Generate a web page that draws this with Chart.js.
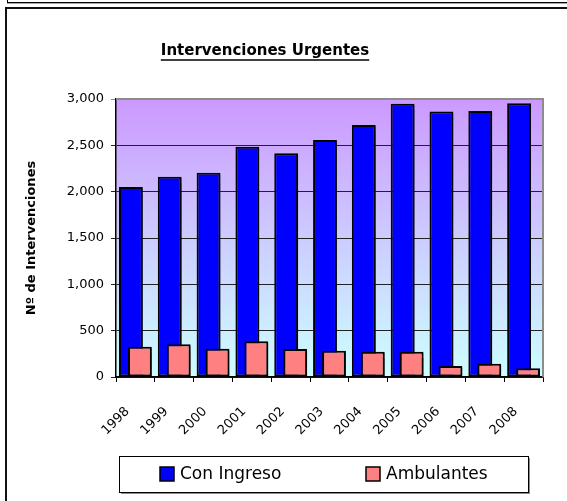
<!DOCTYPE html>
<html>
<head>
<meta charset="utf-8">
<title>Intervenciones Urgentes</title>
<script src="https://cdn.jsdelivr.net/npm/chart.js@4/dist/chart.umd.min.js"></script>
<style>
	html, body { margin: 0; padding: 0; background: #fff; }
	body { width: 567px; height: 501px; position: relative; overflow: hidden; }
	.frame-top { position: absolute; left: 7px; top: -20px; width: 600px; height: 21px; border: 1px solid #000; box-shadow: 0 1px 0 #aaa; }
	.frame-main { position: absolute; left: 5px; top: 7px; width: 600px; height: 600px; border-left: 2px solid #111; border-top: 2px solid #111; }
	#chart { position: absolute; left: 0; top: 0; }
</style>
</head>
<body>
<div class="frame-top"></div>
<div class="frame-main"></div>
<canvas id="chart" width="567" height="501"></canvas>
<script>
(function() {
	'use strict';

	// Data
	const years = ['1998', '1999', '2000', '2001', '2002', '2003', '2004', '2005', '2006', '2007', '2008'];
	const conIngreso = [2050, 2160, 2205, 2485, 2415, 2557, 2720, 2950, 2865, 2870, 2955];
	const ambulantes = [327, 353, 305, 385, 302, 284, 273, 273, 119, 144, 94];
	const yTicks = [0, 500, 1000, 1500, 2000, 2500, 3000];

	const FONT = 'DejaVu Sans';

	/**
	 * Gradient plot background, grey frame and bar shadows.
	 * The second dataset is held back and drawn last so it overlaps the first.
	 */
	const plotArea = {
		id: 'plotArea',
		beforeDraw: function(chart) {
			const a = chart.chartArea;
			const ctx = chart.ctx;
			const g = ctx.createLinearGradient(0, a.top, 0, a.bottom);
			g.addColorStop(0, '#cc99ff');
			g.addColorStop(1, '#ccffff');
			ctx.save();
			ctx.fillStyle = g;
			ctx.fillRect(a.left, a.top, a.right - a.left, a.bottom - a.top);
			ctx.restore();
		},
		beforeDatasetsDraw: function(chart) {
			const a = chart.chartArea;
			const ctx = chart.ctx;
			ctx.save();
			ctx.strokeStyle = '#8c8c8c';
			ctx.lineWidth = 2;
			ctx.beginPath();
			ctx.moveTo(a.left, a.top);
			ctx.lineTo(a.right, a.top);
			ctx.lineTo(a.right, a.bottom);
			ctx.stroke();
			ctx.restore();

			ctx.save();
			ctx.shadowColor = 'rgba(0, 0, 0, 0.4)';
			ctx.shadowOffsetX = 2;
			ctx.shadowOffsetY = 2;
			ctx.shadowBlur = 1;
		},
		beforeDatasetDraw: function(chart, args) {
			if (args.index === 1 && !chart.$drawLast) return false;
		},
		afterDatasetsDraw: function(chart) {
			chart.$drawLast = true;
			chart.getDatasetMeta(1).controller.draw();
			chart.$drawLast = false;
			chart.ctx.restore();
		}
	};

	/**
	 * Underlined title, placed like the original
	 */
	const underlinedTitle = {
		id: 'underlinedTitle',
		afterDraw: function(chart) {
			const ctx = chart.ctx;
			const text = 'Intervenciones Urgentes';
			const x = 265, y = 51;
			ctx.save();
			ctx.font = 'bold 15px "' + FONT + '"';
			ctx.fillStyle = '#000';
			ctx.textAlign = 'center';
			ctx.textBaseline = 'middle';
			ctx.fillText(text, x, y);
			const w = ctx.measureText(text).width;
			ctx.strokeStyle = '#000';
			ctx.lineWidth = 1.5;
			ctx.beginPath();
			ctx.moveTo(x - w / 2, y + 9);
			ctx.lineTo(x + w / 2, y + 9);
			ctx.stroke();
			ctx.restore();
		}
	};

	/**
	 * Boxed legend under the chart
	 */
	const boxedLegend = {
		id: 'boxedLegend',
		afterDraw: function(chart) {
			const ctx = chart.ctx;
			const box = { x: 119, y: 456, w: 409, h: 36 };
			const itemX = [160, 366];

			ctx.save();
			ctx.fillStyle = '#8c8c8c';
			ctx.fillRect(box.x + 2, box.y + 2, box.w, box.h);
			ctx.fillStyle = '#fff';
			ctx.fillRect(box.x, box.y, box.w, box.h);
			ctx.strokeStyle = '#000';
			ctx.lineWidth = 1;
			ctx.strokeRect(box.x + 0.5, box.y + 0.5, box.w, box.h);

			ctx.font = '17px "' + FONT + '"';
			ctx.textBaseline = 'middle';
			chart.data.datasets.forEach(function(ds, i) {
				const x = itemX[i];
				const cy = box.y + box.h / 2;
				ctx.fillStyle = ds.backgroundColor;
				ctx.fillRect(x, cy - 7, 14, 14);
				ctx.lineWidth = 1.5;
				ctx.strokeStyle = '#000';
				ctx.strokeRect(x, cy - 7, 14, 14);
				ctx.fillStyle = '#000';
				ctx.fillText(ds.label, x + 20, cy + 1);
			});
			ctx.restore();
		}
	};

	const ctx = document.getElementById('chart');

	new Chart(ctx, {
		type: 'bar',
		data: {
			labels: years,
			datasets: [{
				label: 'Con Ingreso',
				data: conIngreso,
				backgroundColor: '#0000ff',
				borderColor: '#000',
				borderWidth: 2,
				borderSkipped: false,
				categoryPercentage: 0.464,
				barPercentage: 2.65
			}, {
				label: 'Ambulantes',
				data: ambulantes,
				backgroundColor: '#ff8080',
				borderColor: '#000',
				borderWidth: 2,
				borderSkipped: false,
				categoryPercentage: 0.464,
				barPercentage: 2.65
			}]
		},
		options: {
			responsive: false,
			animation: false,
			layout: {
				padding: { left: 0, right: 24, top: 99, bottom: 0 }
			},
			plugins: {
				legend: { display: false },
				title: { display: false },
				tooltip: { enabled: false }
			},
			scales: {
				x: {
					grid: {
						offset: true,
						drawOnChartArea: false,
						drawTicks: true,
						tickLength: 5,
						color: '#000'
					},
					border: { color: '#000', width: 1.5 },
					ticks: {
						color: '#000',
						font: { family: FONT, size: 13 },
						maxRotation: 45,
						minRotation: 45,
						padding: 22,
						labelOffset: -8
					},
					afterFit: function(scale) {
						scale.height = 124;
					}
				},
				y: {
					min: 0,
					max: 3000,
					afterBuildTicks: function(scale) {
						scale.ticks = yTicks.map(function(v) { return { value: v }; });
					},
					grid: {
						color: function(c) {
							return c.tick && c.tick.value === 3000 ? '#8c8c8c' : '#222';
						},
						lineWidth: 1,
						tickLength: 5
					},
					border: { color: '#000', width: 1.5 },
					ticks: {
						color: '#000',
						font: { family: FONT, size: 13 },
						padding: 7,
						callback: function(v) {
							return Number(v).toLocaleString('en-US');
						}
					},
					title: {
						display: true,
						text: 'Nº de Intervenciones',
						color: '#000',
						font: { family: FONT, size: 13, weight: 'bold' },
						padding: { top: 24, bottom: 0 }
					},
					afterFit: function(scale) {
						scale.width = 116;
					}
				}
			}
		},
		plugins: [plotArea, underlinedTitle, boxedLegend]
	});

})();
</script>
</body>
</html>
